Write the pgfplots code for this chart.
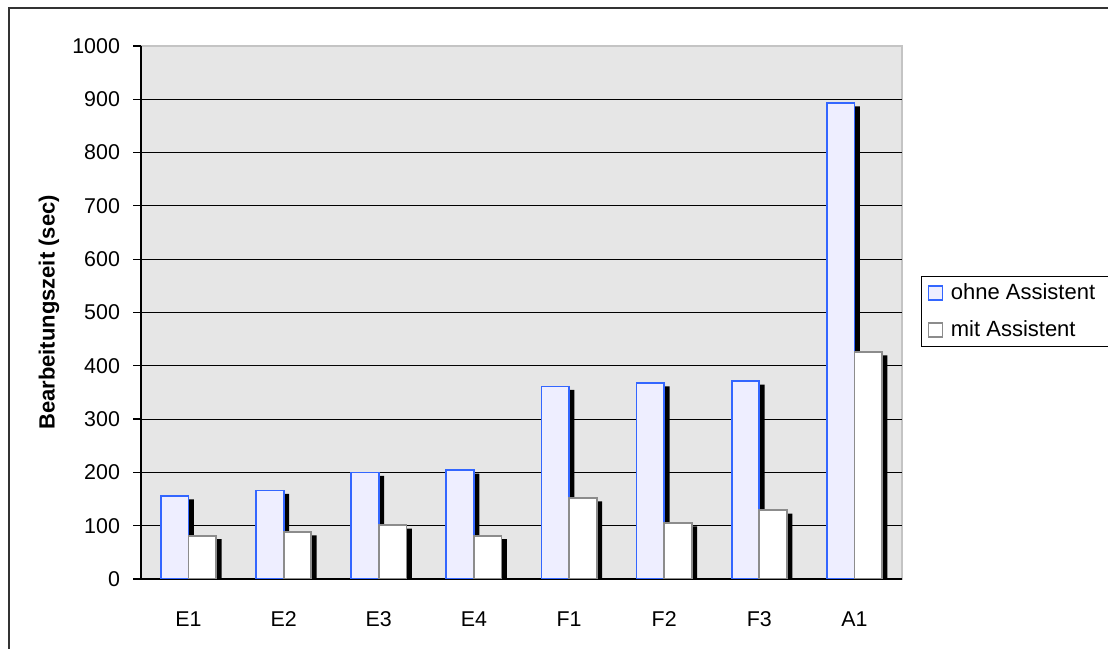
\documentclass[border=0pt]{standalone}
\usepackage{pgfplots}
\usepackage{pgfplotstable}
\pgfplotsset{compat=1.18}
\usepackage{fontspec}
\setmainfont{Liberation Sans}

\definecolor{ohneedge}{HTML}{3366FF}
\definecolor{ohnefill}{HTML}{EEEEFF}
\definecolor{mitedge}{HTML}{8C8C8C}
\definecolor{plotbg}{HTML}{E6E6E6}
\definecolor{plotframe}{HTML}{C4C4C4}
\definecolor{outerframe}{HTML}{333333}

% Bearbeitungszeit in Sekunden je Aufgabe
\pgfplotstableread{
idx task ohne mit
0   E1   156  81
1   E2   166  88
2   E3   200  101
3   E4   204  81
4   F1   361  152
5   F2   368  105
6   F3   371  129
7   A1   893  426
}\zeiten

\begin{document}
\begin{tikzpicture}
\path[use as bounding box] (0pt,0pt) rectangle (554pt,324pt);
\draw[outerframe, line width=1pt] (4.5pt,-5pt) -- (4.5pt,320pt) -- (570pt,320pt);
\begin{axis}[
  at={(70.5pt,34.5pt)}, anchor=south west,
  scale only axis, width=380.5pt, height=266.5pt,
  ybar, bar width=13.8pt,
  xmin=-0.5, xmax=7.5, ymin=0, ymax=1000,
  xtick={0,...,7},
  xticklabels={E1,E2,E3,E4,F1,F2,F3,A1},
  minor xtick={-0.5,0.5,...,7.5},
  ytick={0,100,...,900},
  extra y ticks={1000},
  extra y tick style={grid=none},
  ymajorgrids,
  y grid style={black, line width=0.5pt},
  tick align=outside,
  xtick style={draw=none},
  minor x tick style={black, line width=0.6pt},
  minor tick length=3.3pt,
  ytick style={black, line width=0.6pt},
  major tick length=4pt,
  axis background/.style={fill=plotbg, draw=plotframe, line width=0.8pt},
  axis x line*=bottom, axis y line*=left,
  axis line style={black, line width=0.6pt},
  /pgf/number format/assume math mode=true,
  /pgf/number format/1000 sep={},
  tick label style={font=\fontsize{10.7}{12}\selectfont},
  yticklabel style={xshift=-3pt},
  xticklabel style={anchor=base, yshift=-19.5pt},
  every axis y label/.style={at={(axis description cs:-0.1209,0.5)}, rotate=90, anchor=center},
  ylabel={\fontsize{11}{13}\selectfont\bfseries Bearbeitungszeit (sec)},
  legend style={at={(rel axis cs:1.025,0.5685)}, anchor=north west,
    draw=black, line width=0.5pt, fill=white,
    font=\fontsize{11}{13}\selectfont,
    row sep=5pt, inner xsep=3pt, inner ysep=1.5pt,
    /tikz/every odd column/.append style={column sep=2pt}},
  legend cell align=left,
]
% Schatten der Balken
\addplot[fill=black, draw=none, bar shift=-4.2pt, yshift=-1.7pt, forget plot]
  table[x=idx, y=ohne] {\zeiten};
\addplot[fill=black, draw=none, bar shift=9.6pt, yshift=-1.7pt, forget plot]
  table[x=idx, y=mit] {\zeiten};
% Balken
\addplot[fill=ohnefill, draw=ohneedge, line width=0.85pt, bar shift=-6.9pt,
  legend image code/.code={\draw[fill=ohnefill, draw=ohneedge, line width=0.7pt] (0pt,-3.5pt) rectangle (7pt,3.5pt);}]
  table[x=idx, y=ohne] {\zeiten};
\addplot[fill=white, draw=mitedge, line width=0.85pt, bar shift=6.9pt,
  legend image code/.code={\draw[fill=white, draw=mitedge, line width=0.7pt] (0pt,-3.5pt) rectangle (7pt,3.5pt);}]
  table[x=idx, y=mit] {\zeiten};
\legend{ohne Assistent\hspace*{20pt}, mit Assistent}
\end{axis}
\end{tikzpicture}
\end{document}
